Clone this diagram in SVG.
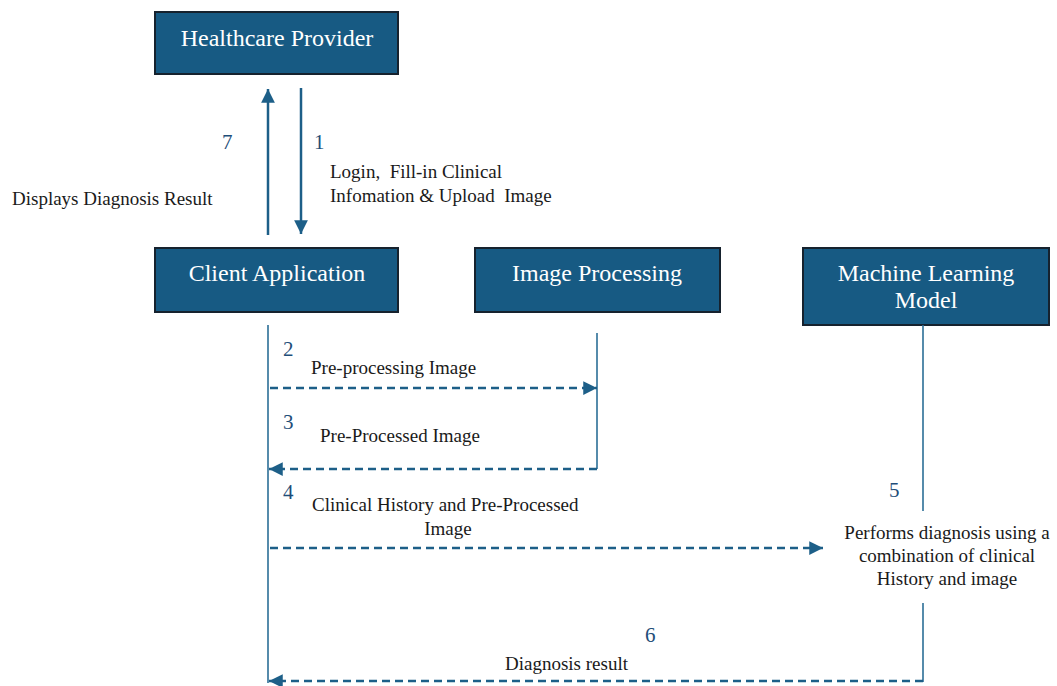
<svg xmlns="http://www.w3.org/2000/svg" width="1057" height="686" viewBox="0 0 1057 686">
<style>
.box{fill:#175a83;stroke:#16222e;stroke-width:2}
.title{font-family:'Liberation Serif',Tinos,'Times New Roman',Times,'DejaVu Serif','Noto Serif',serif;font-size:24px;fill:#ffffff;text-anchor:middle}
.lbl{font-family:'Liberation Serif',Tinos,'Times New Roman',Times,'DejaVu Serif','Noto Serif',serif;font-size:19px;fill:#1a1a1a}
.num{font-family:'Liberation Serif',Tinos,'Times New Roman',Times,'DejaVu Serif','Noto Serif',serif;font-size:21px;fill:#1f4e79}
.life{stroke:#2b6e96;stroke-width:1.6;fill:none}
.solid{stroke:#1d5f88;stroke-width:2.5;fill:none}
.dash{stroke:#1d5f88;stroke-width:2.5;fill:none;stroke-dasharray:8 5}
</style>
<defs>
<marker id="ah" viewBox="0 0 10 10" refX="10" refY="5" markerWidth="5.5" markerHeight="5.5" markerUnits="strokeWidth" orient="auto">
<path d="M0,0 L10,5 L0,10 Z" fill="#1d5f88"/>
</marker>
</defs>
<rect width="1057" height="686" fill="#ffffff"/>

<g id="healthcare-provider">
<rect class="box" x="155" y="12" width="243" height="62"/>
<text class="title" x="277" y="46">Healthcare Provider</text>
</g>
<g id="client-application">
<rect class="box" x="155" y="248" width="243" height="64"/>
<text class="title" x="277" y="281">Client Application</text>
</g>
<g id="image-processing">
<rect class="box" x="475" y="248" width="245" height="64"/>
<text class="title" x="597" y="281">Image Processing</text>
</g>
<g id="machine-learning-model">
<rect class="box" x="803" y="248" width="246" height="77"/>
<text class="title" x="926" y="281">Machine Learning</text>
<text class="title" x="926" y="308">Model</text>
</g>

<g id="connectors">
<line class="solid" x1="268" y1="235" x2="268" y2="89" marker-end="url(#ah)"/>
<line class="solid" x1="301" y1="88" x2="301" y2="234" marker-end="url(#ah)"/>
<line class="life" x1="268" y1="325" x2="268" y2="683"/>
<line class="life" x1="597" y1="333" x2="597" y2="469"/>
<line class="life" x1="923" y1="325" x2="923" y2="511"/>
<line class="life" x1="923" y1="603" x2="923" y2="682"/>
<line class="dash" x1="270" y1="388" x2="597" y2="388" marker-end="url(#ah)"/>
<line class="dash" x1="597" y1="469" x2="269" y2="469" marker-end="url(#ah)"/>
<line class="dash" x1="270" y1="548" x2="823" y2="548" marker-end="url(#ah)"/>
<line class="dash" x1="923" y1="681" x2="269" y2="681" marker-end="url(#ah)"/>
</g>

<g id="labels">
<text class="num" x="222" y="149">7</text>
<text class="num" x="314" y="149">1</text>
<text class="lbl" x="330" y="178" xml:space="preserve">Login,  Fill-in Clinical</text>
<text class="lbl" x="330" y="202" xml:space="preserve">Infomation &amp; Upload  Image</text>
<text class="lbl" x="12" y="205">Displays Diagnosis Result</text>
<text class="num" x="283" y="356">2</text>
<text class="lbl" x="311" y="374">Pre-processing Image</text>
<text class="num" x="283" y="429">3</text>
<text class="lbl" x="320" y="442">Pre-Processed Image</text>
<text class="num" x="283" y="499">4</text>
<text class="lbl" x="312" y="511">Clinical History and Pre-Processed</text>
<text class="lbl" x="448" y="535" text-anchor="middle">Image</text>
<text class="num" x="889" y="497">5</text>
<text class="lbl" x="947" y="539" text-anchor="middle">Performs diagnosis using a</text>
<text class="lbl" x="947" y="562" text-anchor="middle">combination of clinical</text>
<text class="lbl" x="947" y="585" text-anchor="middle">History and image</text>
<text class="num" x="645" y="642">6</text>
<text class="lbl" x="505" y="670">Diagnosis result</text>
</g>
</svg>
